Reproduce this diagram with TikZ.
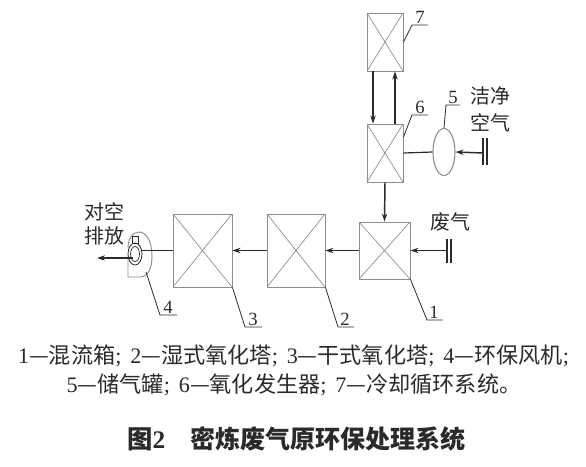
\documentclass[tikz,border=0pt]{standalone}
\usepackage{fontspec}
\setmainfont{Liberation Serif}
\newfontfamily\cjk{Noto Sans CJK SC}
\usetikzlibrary{arrows.meta,shapes.geometric}
\newcommand\Cj[1]{{\cjk #1}}
\definecolor{boxgray}{HTML}{8C8C8C}
\definecolor{ink}{HTML}{2A2A2A}
\begin{document}
\begin{tikzpicture}[x=0.75pt,y=-0.75pt,
  unitbox/.style 2 args={draw=boxgray, line width=0.7pt, inner sep=0pt,
    minimum width=#1*0.75pt, minimum height=#2*0.75pt,
    path picture={\draw[boxgray,line width=0.5pt]
      (path picture bounding box.north west) -- (path picture bounding box.south east)
      (path picture bounding box.north east) -- (path picture bounding box.south west);}},
  arr/.style={draw=ink, line width=1.1pt, -{Stealth[length=6pt,width=4pt]}},
  pipe/.style={draw=ink, line width=0.9pt},
  bar/.style={draw=ink, line width=0.8pt},
  leader/.style={draw=ink, line width=0.6pt},
  num/.style={anchor=south, inner sep=0.6pt, font=\fontsize{14pt}{16pt}\selectfont, text=ink},
  lbl/.style={inner sep=0pt, font=\cjk\fontsize{15pt}{18pt}\selectfont, text=ink},
  captext/.style={inner sep=0pt, font=\fontsize{16.6pt}{19pt}\selectfont, text=ink}
]
\useasboundingbox (0,0) rectangle (586,467);

% units
\node[unitbox={36}{58}] (b7) at (385,42) {};
\node[unitbox={36}{58}] (b6) at (385,153) {};
\node[unitbox={51}{57}] (b1) at (384.5,250.5) {};
\node[unitbox={58}{73}] (b2) at (296,250.5) {};
\node[unitbox={59}{73}] (b3) at (202.5,250.5) {};
\node[draw=boxgray, line width=0.8pt, ellipse, inner sep=0pt,
      minimum width=22*0.75pt, minimum height=47*0.75pt] (e5) at (444,152) {};

% fan (4)
\node[draw=ink, line width=0.6pt, ellipse, inner sep=0pt,
      minimum width=14*0.75pt, minimum height=22*0.75pt] (fan) at (135,254) {};
\node[draw=ink, line width=0.5pt, ellipse, inner sep=0pt,
      minimum width=9*0.75pt, minimum height=15*0.75pt] (fanin) at (135,254) {};
\draw[draw=ink, line width=0.5pt] (132,236) rectangle (138,243);
\draw[draw=boxgray, line width=0.7pt] (128,257) -- (128,277) -- (141,277)
  .. controls (149,276) and (152,267) .. (152,256)
  .. controls (152,241) and (146,232) .. (139,232)
  .. controls (132,232) and (128,240) .. (128,248);

% connectors
\draw[arr] ([xshift=-9pt]b7.south) -- ([xshift=-9pt]b6.north);
\draw[arr] ([xshift=7.5pt]b6.north) -- ([xshift=7.5pt]b7.south);
\draw[arr] (b6.south) -- (b1.north);
\draw[pipe] (b6.east) -- (e5.west);
\coordinate (air) at (483,153);
\draw[arr] (air) -- (e5.east);
\draw[bar] (483,138) -- (483,165) (487,138) -- (487,165);
\coordinate (gas) at (447,250.5);
\draw[arr] (gas) -- (b1.east);
\draw[bar] (447,239) -- (447,263) (451,239) -- (451,263);
\draw[arr] (b1.west) -- (b2.east);
\draw[arr] (b2.west) -- (b3.east);
\draw[pipe] (b3.west) -- (b3.west -| fan.east);
\coordinate (fo) at (133,258);
\coordinate (ex) at (97,258);
\draw[arr] (fo) -- (ex);

% leaders and numbers
\coordinate (f4) at (146,272);
\draw[leader] (b7.east) -- (412,25) -- (428,25);
\node[num] at (420,25) {7};
\draw[leader] ([yshift=12pt]b6.east) -- (412,115) -- (428,115);
\node[num] at (420,115) {6};
\draw[leader] (e5.north) -- (446,105) -- (460,105);
\node[num] at (453,105) {5};
\draw[leader] (b1.south east) -- (427,320) -- (443,320);
\node[num] at (434,320) {1};
\draw[leader] (b2.south east) -- (338,327) -- (354,327);
\node[num] at (345,327) {2};
\draw[leader] (b3.south east) -- (245,327) -- (262,327);
\node[num] at (253,327) {3};
\draw[leader] (f4) -- (160,315) -- (177,315);
\node[num] at (168,315) {4};

% labels
\node[lbl] (t1) at (104,212) {对空};
\node[lbl] (t2) at (104,236) {排放};
\node[lbl] (t3) at (490,96) {洁净};
\node[lbl] (t4) at (490,123) {空气};
\node[lbl] (t5) at (450,222) {废气};

% captions
\node[captext] (c1) at (293.5,356) {1\Cj{—混流箱};\hspace{0.4em}2\Cj{—湿式氧化塔};\hspace{0.4em}3\Cj{—干式氧化塔};\hspace{0.4em}4\Cj{—环保风机};};
\node[captext] (c2) at (294,385) {5\Cj{—储气罐};\hspace{0.4em}6\Cj{—氧化发生器};\hspace{0.4em}7\Cj{—冷却循环系统。}};
\node[inner sep=0pt, anchor=west, text=ink, font=\fontsize{19pt}{22pt}\selectfont\bfseries] (c3) at (127,439) {\Cj{图}2};
\node[inner sep=0pt, anchor=west, text=ink, font=\cjk\fontsize{18.8pt}{22pt}\selectfont\bfseries] (c4) at (190,439) {密炼废气原环保处理系统};
\end{tikzpicture}
\end{document}
